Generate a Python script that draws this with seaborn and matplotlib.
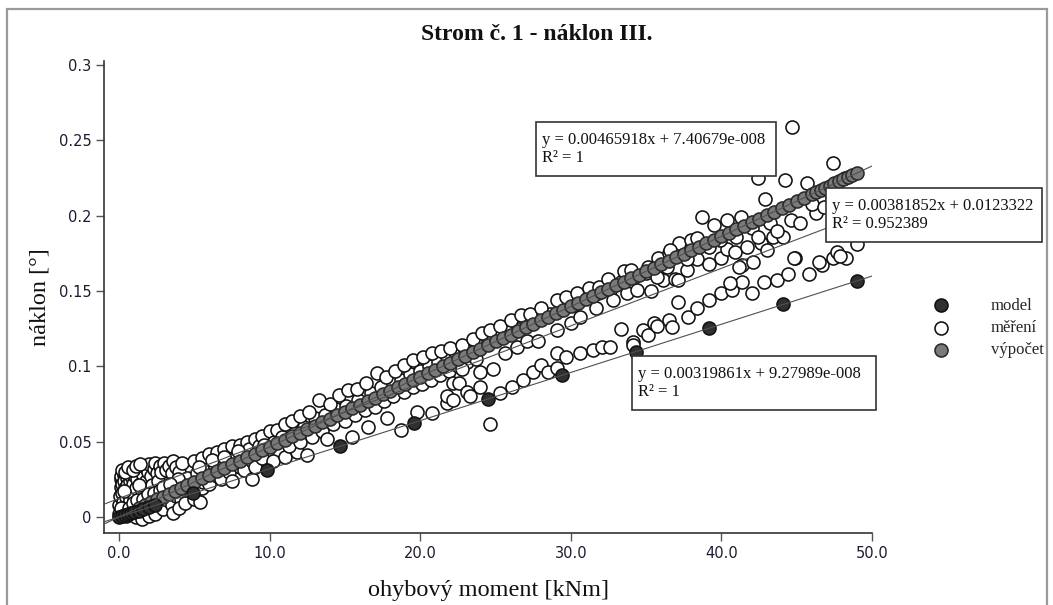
import matplotlib
matplotlib.use("Agg")
import matplotlib.pyplot as plt
from matplotlib.patches import Rectangle
import seaborn as sns
import pandas as pd

# ---------------- data ----------------
title = "Strom č. 1 - náklon III."
x_label = "ohybový moment [kNm]"
y_label = "náklon [°]"
series_names = ["model", "měření", "výpočet"]

x_ticks = [0, 10, 20, 30, 40, 50]
x_tick_labels = ["0.0", "10.0", "20.0", "30.0", "40.0", "50.0"]
y_ticks = [0, 0.05, 0.1, 0.15, 0.2, 0.25, 0.3]
y_tick_labels = ["0", "0.05", "0.1", "0.15", "0.2", "0.25", "0.3"]

model_x = [0.0, 0.2, 0.4, 0.6, 0.8, 1.0, 1.3, 1.6, 2.0, 2.4, 4.9, 9.8, 14.7,
           19.6, 24.5, 29.4, 34.3, 39.2, 44.1, 49.0]
model_y = [0.0, 0.0006, 0.0013, 0.0019, 0.0026, 0.0032, 0.0042, 0.0051, 0.0064,
           0.0077, 0.0157, 0.0313, 0.0470, 0.0627, 0.0784, 0.0940, 0.1097,
           0.1254, 0.1411, 0.1567]

calc_x = [1.3, 1.7, 2.1, 2.5, 2.9, 3.3, 3.7, 4.1, 4.5, 5.0, 5.5, 6.0, 6.5, 7.0,
          7.5, 8.0, 8.5, 9.0, 9.5, 10.0, 10.5, 11.0, 11.5, 12.0, 12.5, 13.0,
          13.5, 14.0, 14.5, 15.0, 15.5, 16.0, 16.5, 17.0, 17.5, 18.0, 18.5,
          19.0, 19.5, 20.0, 20.5, 21.0, 21.5, 22.0, 22.5, 23.0, 23.5, 24.0,
          24.5, 25.0, 25.5, 26.0, 26.5, 27.0, 27.5, 28.0, 28.5, 29.0, 29.5,
          30.0, 30.5, 31.0, 31.5, 32.0, 32.5, 33.0, 33.5, 34.0, 34.5, 35.0,
          35.5, 36.0, 36.5, 37.0, 37.5, 38.0, 38.5, 39.0, 39.5, 40.0, 40.5,
          41.0, 41.5, 42.0, 42.5, 43.0, 43.5, 44.0, 44.5, 45.0, 45.5, 46.0,
          46.3, 46.6, 46.9, 47.2, 47.5, 47.8, 48.1, 48.4, 48.7, 49.0]
calc_y = [0.0061, 0.0079, 0.0098, 0.0117, 0.0135, 0.0154, 0.0172, 0.0191,
          0.0210, 0.0233, 0.0256, 0.0280, 0.0303, 0.0326, 0.0349, 0.0373,
          0.0396, 0.0419, 0.0443, 0.0466, 0.0489, 0.0513, 0.0536, 0.0559,
          0.0582, 0.0606, 0.0629, 0.0652, 0.0676, 0.0699, 0.0722, 0.0745,
          0.0769, 0.0792, 0.0815, 0.0839, 0.0862, 0.0885, 0.0909, 0.0932,
          0.0955, 0.0978, 0.1002, 0.1025, 0.1048, 0.1072, 0.1095, 0.1118,
          0.1142, 0.1165, 0.1188, 0.1211, 0.1235, 0.1258, 0.1281, 0.1305,
          0.1328, 0.1351, 0.1375, 0.1398, 0.1421, 0.1444, 0.1468, 0.1491,
          0.1514, 0.1538, 0.1561, 0.1584, 0.1608, 0.1631, 0.1654, 0.1677,
          0.1701, 0.1724, 0.1747, 0.1771, 0.1794, 0.1817, 0.1841, 0.1864,
          0.1887, 0.1911, 0.1934, 0.1957, 0.1980, 0.2004, 0.2027, 0.2050,
          0.2074, 0.2097, 0.2120, 0.2144, 0.2157, 0.2172, 0.2186, 0.2200,
          0.2214, 0.2227, 0.2241, 0.2255, 0.2269, 0.2283]

meas_start = [(0.0, 0.002), (0.0, 0.008), (0.05, 0.014), (0.1, 0.020), (0.1, 0.025),
              (0.15, 0.027), (0.2, 0.022), (0.2, 0.016), (0.25, 0.010), (0.3, 0.004),
              (0.3, 0.028), (0.35, 0.024), (0.4, 0.019), (0.45, 0.013), (0.5, 0.007),
              (0.5, 0.026), (0.55, 0.021), (0.6, 0.029), (0.6, 0.016), (0.7, 0.011),
              (0.7, 0.024), (0.8, 0.027), (0.8, 0.018), (0.9, 0.022), (1.0, 0.013),
              (1.0, 0.028), (1.1, 0.019), (1.2, 0.025), (1.3, 0.031), (1.4, 0.022),
              (1.5, 0.017), (1.6, 0.028), (1.7, 0.033), (1.8, 0.024), (1.9, 0.030),
              (2.0, 0.035), (2.1, 0.027), (2.2, 0.021), (2.3, 0.032), (2.4, 0.036),
              (2.5, 0.029), (2.6, 0.024), (2.7, 0.034), (2.8, 0.030), (3.0, 0.036),
              (3.1, 0.031), (3.3, 0.034), (3.5, 0.029), (3.6, 0.037), (3.8, 0.033),
              (4.0, 0.030), (4.2, 0.036), (0.8, 0.003), (1.1, 0.000), (1.3, 0.005),
              (1.5, -0.001), (1.7, 0.004), (2.0, 0.001), (2.2, 0.007), (2.4, 0.002),
              (2.6, 0.009), (2.9, 0.005), (3.2, 0.011), (3.5, 0.008), (3.8, 0.014),
              (4.1, 0.012), (4.5, 0.017), (4.8, 0.015), (3.6, 0.003), (4.0, 0.006),
              (4.4, 0.009), (5.0, 0.012), (5.4, 0.010), (0.2, 0.031), (0.4, 0.030),
              (0.6, 0.033), (0.9, 0.031), (1.1, 0.034), (1.4, 0.035), (0.3, 0.017),
              (0.15, 0.006), (0.45, 0.001), (0.65, 0.006), (0.95, 0.009), (1.2, 0.011),
              (1.6, 0.012), (1.9, 0.015), (2.3, 0.016), (2.7, 0.018), (3.1, 0.020),
              (1.3, 0.021)]

meas_band = [(4.5, 0.026), (5.0, 0.037), (5.2, 0.029), (5.5, 0.039), (5.8, 0.031),
             (6.0, 0.042), (6.3, 0.035), (6.5, 0.043), (7.0, 0.045), (7.2, 0.038),
             (7.5, 0.047), (7.8, 0.041), (8.0, 0.048), (8.5, 0.050), (8.6, 0.045),
             (9.0, 0.052), (9.3, 0.047), (9.5, 0.054), (9.8, 0.044), (10.0, 0.057),
             (10.3, 0.050), (10.5, 0.058), (4.8, 0.020), (5.5, 0.019), (5.6, 0.023),
             (6.0, 0.022), (6.5, 0.027), (6.8, 0.025), (7.3, 0.030), (7.5, 0.024),
             (8.0, 0.033), (8.3, 0.031), (8.8, 0.025), (8.8, 0.037), (9.0, 0.033),
             (9.5, 0.039), (10.2, 0.037), (11.0, 0.040), (11.8, 0.043), (12.5, 0.041)]

meas_near_calc = [(12.3, 0.060), (13.0, 0.066), (13.7, 0.068), (14.4, 0.072), (15.1, 0.074),
                  (15.9, 0.078), (16.7, 0.082), (17.4, 0.086), (18.1, 0.090), (18.7, 0.091),
                  (19.3, 0.095), (20.0, 0.097), (20.6, 0.100), (21.2, 0.103), (21.8, 0.106),
                  (22.4, 0.108), (23.0, 0.111), (23.9, 0.114), (24.5, 0.117), (25.1, 0.120),
                  (25.8, 0.123), (26.5, 0.125), (27.2, 0.129), (27.9, 0.132), (28.6, 0.135),
                  (29.4, 0.138), (30.2, 0.141), (31.0, 0.146), (31.8, 0.149), (32.6, 0.151),
                  (33.3, 0.156), (34.2, 0.159), (35.0, 0.162), (9.6, 0.048), (10.8, 0.053),
                  (11.6, 0.056), (5.3, 0.033), (6.2, 0.038), (7.0, 0.040), (7.9, 0.044),
                  (3.9, 0.025), (2.9, 0.020), (3.4, 0.022)]

meas_upper = [(11.0, 0.062), (11.5, 0.064), (12.0, 0.067), (12.6, 0.070), (13.3, 0.078),
              (14.0, 0.075), (14.6, 0.081), (15.2, 0.084), (15.8, 0.085), (16.4, 0.089),
              (17.1, 0.0955), (17.7, 0.093), (18.3, 0.097), (18.9, 0.101), (19.5, 0.104),
              (20.2, 0.106), (20.8, 0.109), (21.4, 0.110), (22.0, 0.112), (22.8, 0.114),
              (23.5, 0.118), (24.1, 0.122), (24.6, 0.124), (25.3, 0.127), (26.0, 0.131),
              (26.7, 0.134), (27.3, 0.135), (28.0, 0.139), (29.1, 0.144), (29.7, 0.146),
              (30.4, 0.149), (31.2, 0.152), (31.9, 0.153), (32.5, 0.158), (33.5, 0.163),
              (34.0, 0.164), (35.1, 0.166), (35.8, 0.172), (36.5, 0.175), (37.2, 0.182),
              (38.0, 0.184), (38.7, 0.199), (39.5, 0.194), (40.4, 0.197), (41.3, 0.199),
              (42.4, 0.225), (42.9, 0.211), (44.2, 0.224), (44.7, 0.259), (45.7, 0.222),
              (46.5, 0.212), (47.4, 0.235), (47.7, 0.217), (48.2, 0.225)]

meas_below = [(11.3, 0.047), (12.0, 0.050), (12.8, 0.053), (13.5, 0.057), (14.2, 0.062),
              (15.0, 0.064), (15.7, 0.068), (16.3, 0.071), (17.0, 0.073), (17.6, 0.077),
              (18.2, 0.080), (18.9, 0.083), (19.5, 0.086), (20.1, 0.088), (20.7, 0.091),
              (21.3, 0.094), (21.9, 0.097), (22.5, 0.100), (23.1, 0.103), (23.7, 0.105),
              (22.8, 0.098), (24.0, 0.096), (24.8, 0.098), (25.6, 0.109), (26.4, 0.113),
              (27.1, 0.117), (27.8, 0.117), (29.1, 0.124), (30.0, 0.129), (30.6, 0.133),
              (31.7, 0.139), (32.8, 0.144), (33.7, 0.149), (34.4, 0.151), (35.3, 0.150),
              (36.1, 0.157), (36.9, 0.158), (37.7, 0.164), (38.4, 0.171), (39.2, 0.168),
              (40.0, 0.172), (40.4, 0.178), (40.9, 0.176), (41.4, 0.167), (42.1, 0.169),
              (42.6, 0.182), (43.0, 0.177), (43.4, 0.186), (44.1, 0.186), (36.6, 0.177),
              (38.4, 0.185), (39.2, 0.179), (39.9, 0.184), (41.0, 0.186), (41.7, 0.179),
              (42.0, 0.192), (42.4, 0.186), (43.2, 0.195), (43.7, 0.190), (44.6, 0.197),
              (45.2, 0.195), (46.3, 0.202), (37.7, 0.171), (36.4, 0.166), (35.7, 0.159),
              (37.1, 0.157), (41.2, 0.166), (46.0, 0.208), (46.8, 0.206)]

meas_lower = [(13.8, 0.052), (15.5, 0.053), (16.5, 0.060), (17.8, 0.066), (18.7, 0.058),
              (19.8, 0.070), (20.8, 0.069), (21.8, 0.076), (21.8, 0.080), (22.2, 0.078),
              (22.2, 0.089), (22.6, 0.089), (23.1, 0.083), (23.3, 0.080), (24.0, 0.086),
              (24.6, 0.062), (25.3, 0.082), (26.1, 0.086), (26.8, 0.091), (27.5, 0.096),
              (28.0, 0.101), (28.5, 0.096), (29.1, 0.099), (29.1, 0.109), (29.7, 0.106),
              (30.6, 0.109), (31.5, 0.111), (32.1, 0.113), (32.6, 0.113), (33.3, 0.125),
              (34.1, 0.116), (34.1, 0.114), (34.8, 0.124), (35.1, 0.121), (35.5, 0.129),
              (35.7, 0.127), (36.5, 0.131), (36.7, 0.126), (37.1, 0.143), (37.8, 0.133),
              (38.4, 0.139), (39.2, 0.144), (40.0, 0.149), (40.7, 0.151), (41.4, 0.156),
              (42.0, 0.149), (42.8, 0.156), (43.7, 0.157), (44.4, 0.161), (44.9, 0.172),
              (45.8, 0.161), (46.7, 0.167), (47.4, 0.172), (47.7, 0.176), (48.3, 0.172),
              (49.0, 0.181), (40.6, 0.155), (44.8, 0.172), (46.5, 0.169), (47.9, 0.173)]

# trendline coefficients (slope, intercept) and their captions: model, měření, výpočet
fit_slopes = [0.00319861, 0.00381852, 0.00465918]
fit_intercepts = [9.27989e-8, 0.0123322, 7.40679e-8]
fit_texts = ["y = 0.00319861x + 9.27989e-008\nR² = 1",
             "y = 0.00381852x + 0.0123322\nR² = 0.952389",
             "y = 0.00465918x + 7.40679e-008\nR² = 1"]
fit_x_range = [-1.0, 50.0]

# ---------------- styling ----------------
sns.set_style("ticks")
plt.rcParams["font.family"] = ["DejaVu Sans"]
SERIF = ["Liberation Serif", "DejaVu Serif"]

W, H = 1053, 605
fig = plt.figure(figsize=(W / 100, H / 100), dpi=100)
fig.patch.set_facecolor("white")

def fx(px):
    return px / W

def fy(py):
    return 1 - py / H

ax = fig.add_axes([fx(104), fy(533), fx(872) - fx(104), fy(60.5) - fy(533)])
ax.set_facecolor("white")

meas_all = meas_start + meas_band + meas_near_calc + meas_upper + meas_below + meas_lower
meas_df = pd.DataFrame(meas_all, columns=["x", "y"])
model_df = pd.DataFrame({"x": model_x, "y": model_y})
calc_df = pd.DataFrame({"x": calc_x, "y": calc_y})

S = 88
LW = 1.15
sns.scatterplot(data=meas_df, x="x", y="y", ax=ax, s=S, color="white",
                edgecolor="#111111", linewidth=LW, label=series_names[1], zorder=2)
sns.scatterplot(data=calc_df, x="x", y="y", ax=ax, s=S, color="#7a7a7a",
                edgecolor="#2a2a2a", linewidth=LW, label=series_names[2], zorder=3)
sns.scatterplot(data=model_df, x="x", y="y", ax=ax, s=S, color="#303030",
                edgecolor="#111111", linewidth=LW, label=series_names[0], zorder=4)

for k, b in zip(fit_slopes, fit_intercepts):
    xs = fit_x_range
    ys = [k * xs[0] + b, k * xs[1] + b]
    ax.plot(xs, ys, color="#505050", lw=0.8, zorder=5)

ax.set_xlim(-1.0, 50.0)
ax.set_ylim(-0.0106, 0.303)
ax.set_xticks(x_ticks)
ax.set_xticklabels(x_tick_labels)
ax.set_yticks(y_ticks)
ax.set_yticklabels(y_tick_labels)
ax.tick_params(axis="both", direction="out", length=6, width=1.0, color="#555555",
               labelsize=10.5, labelcolor="#1c1c30", pad=3)
for side in ["top", "right"]:
    ax.spines[side].set_visible(False)
for side in ["left", "bottom"]:
    ax.spines[side].set_color("#333333")
    ax.spines[side].set_linewidth(1.2)

ax.set_xlabel(x_label, family=SERIF, fontsize=17.5, color="#111111", labelpad=14)
ax.set_ylabel(y_label, family=SERIF, fontsize=17.5, color="#111111", labelpad=6)
fig.text(fx(537), fy(34), title, family=SERIF, fontweight="bold", fontsize=17,
         ha="center", va="center", color="#111111")

# legend
handles, labels = ax.get_legend_handles_labels()
order = [labels.index(n) for n in series_names]
leg = ax.legend([handles[i] for i in order], [labels[i] for i in order],
                loc="center left", bbox_to_anchor=(fx(916), fy(328)),
                bbox_transform=fig.transFigure, frameon=False,
                prop={"family": SERIF, "size": 12}, borderpad=0,
                handlelength=2.0, handletextpad=2.0, labelspacing=0.38,
                markerscale=1.0)

# trendline caption boxes (pixel rectangles)
boxes = [(632, 356, 876, 410), (826, 188, 1042, 242), (536, 122, 776, 176)]
for (x0, y0, x1, y1), txt in zip(boxes, fit_texts):
    rect = Rectangle((fx(x0), fy(y1)), fx(x1) - fx(x0), fy(y0) - fy(y1),
                     transform=fig.transFigure, facecolor="white",
                     edgecolor="#333333", linewidth=1.2, zorder=10)
    fig.add_artist(rect)
    fig.text(fx(x0 + 6), fy((y0 + y1) / 2), txt, family=SERIF, fontsize=12,
             ha="left", va="center", color="#111111", zorder=11,
             linespacing=1.1)

# outer gray frame
frame = Rectangle((fx(7), fy(640)), fx(1047) - fx(7), fy(9) - fy(640),
                  transform=fig.transFigure, facecolor="none", edgecolor="#9a9a9a",
                  linewidth=1.6, zorder=0)
fig.add_artist(frame)

fig.savefig("out.png", dpi=100)
